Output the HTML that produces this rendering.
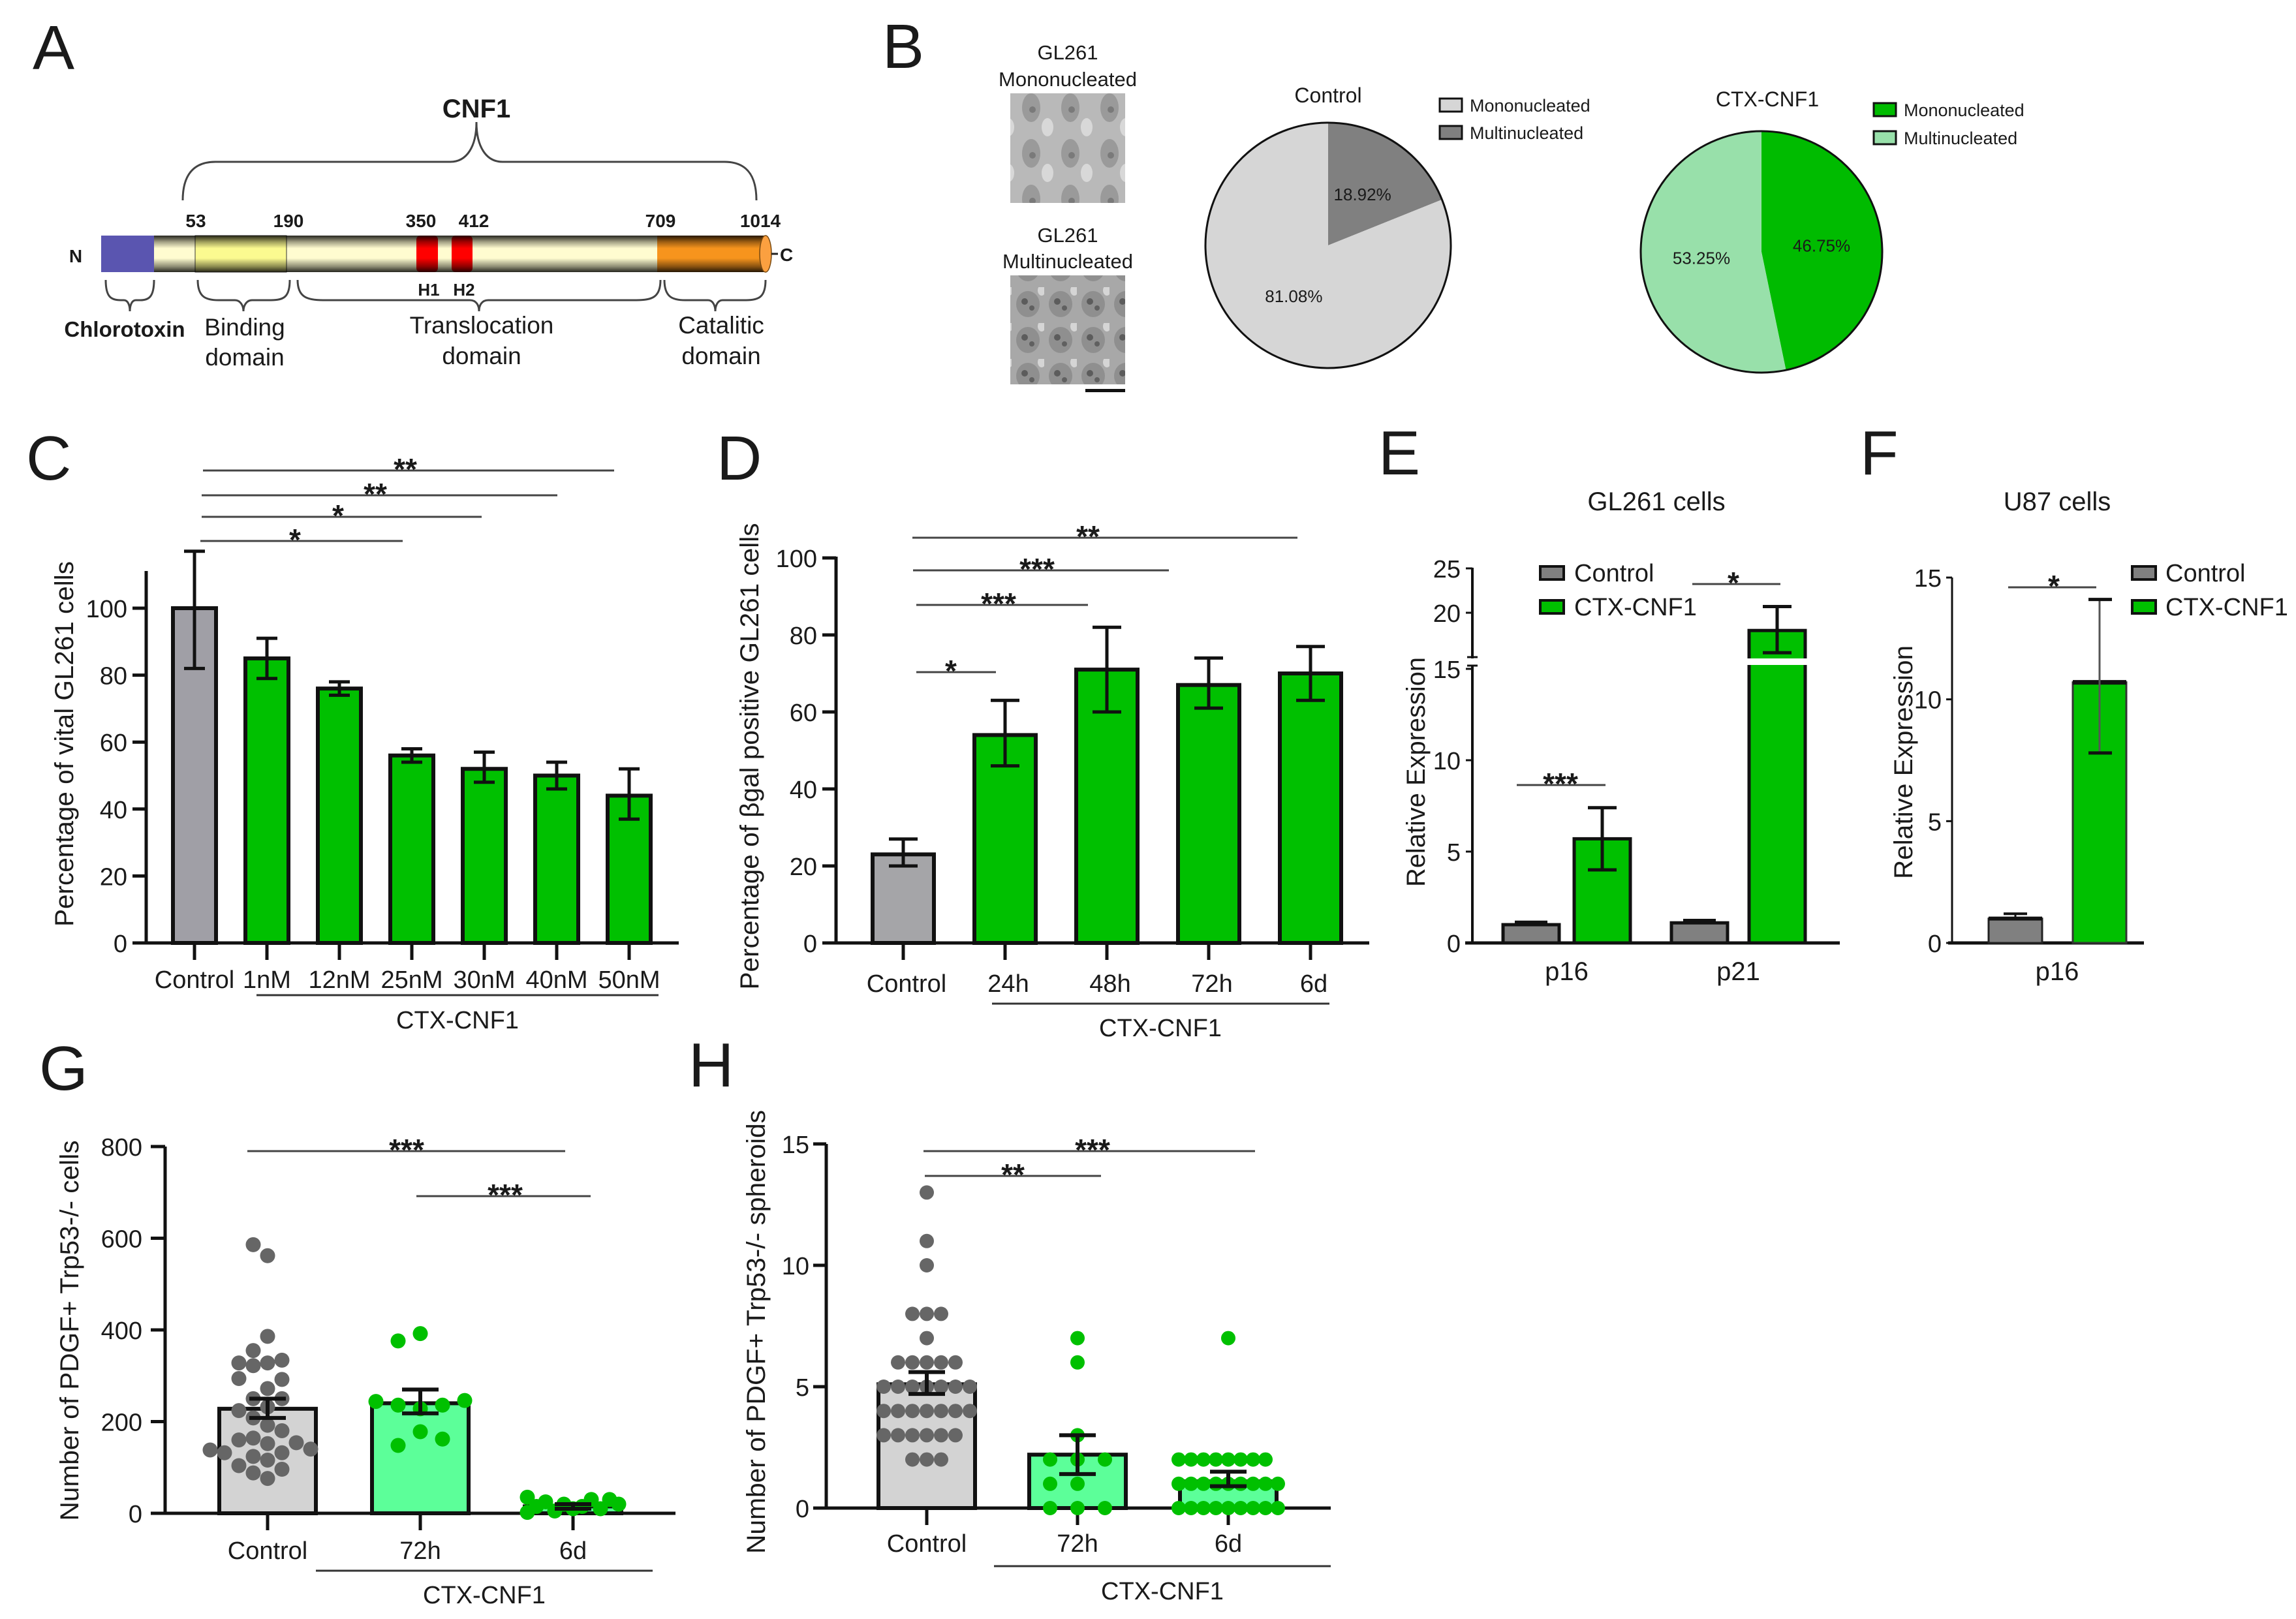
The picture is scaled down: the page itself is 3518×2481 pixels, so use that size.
<!DOCTYPE html>
<html><head><meta charset="utf-8"><style>
html,body{margin:0;padding:0;background:#fff;}
svg{display:block;font-family:"Liberation Sans",Arial,sans-serif;}
text{fill:#1a1a1a;}
</style></head><body>
<svg id="chart" xmlns="http://www.w3.org/2000/svg" width="3518" height="2481" viewBox="0 0 3518 2481">
<defs>
<linearGradient id="cyl" x1="0" y1="0" x2="0" y2="1">
<stop offset="0" stop-color="#000" stop-opacity="0.85"/>
<stop offset="0.18" stop-color="#000" stop-opacity="0.35"/>
<stop offset="0.35" stop-color="#000" stop-opacity="0"/>
<stop offset="0.62" stop-color="#000" stop-opacity="0"/>
<stop offset="0.85" stop-color="#000" stop-opacity="0.45"/>
<stop offset="1" stop-color="#000" stop-opacity="0.85"/>
</linearGradient>
<pattern id="cells1" width="60" height="70" patternUnits="userSpaceOnUse">
<rect width="60" height="70" fill="#b9b9b9"/>
<ellipse cx="20" cy="25" rx="14" ry="22" fill="#9a9a9a"/>
<ellipse cx="45" cy="55" rx="9" ry="14" fill="#d8d8d8"/>
<circle cx="22" cy="28" r="5" fill="#7a7a7a"/>
</pattern>
<pattern id="cells2" width="50" height="55" patternUnits="userSpaceOnUse">
<rect width="50" height="55" fill="#a8a8a8"/>
<ellipse cx="25" cy="26" rx="18" ry="20" fill="#8f8f8f"/>
<circle cx="20" cy="22" r="5" fill="#5c5c5c"/>
<circle cx="31" cy="32" r="4" fill="#606060"/>
<ellipse cx="46" cy="5" rx="6" ry="8" fill="#d5d5d5"/>
</pattern>
</defs>

<!-- ================= PANEL A ================= -->
<g>
<text x="50" y="106" font-size="96">A</text>
<text x="730" y="180" font-size="40" font-weight="bold" text-anchor="middle">CNF1</text>
<path d="M280,307 C280,270 295,248 330,248 L690,248 C715,248 730,225 730,187 C730,225 745,248 770,248 L1110,248 C1145,248 1159,270 1159,307" fill="none" stroke="#444" stroke-width="3"/>
<g font-size="28" font-weight="bold" text-anchor="middle">
<text x="300" y="348">53</text><text x="442" y="348">190</text><text x="645" y="348">350</text><text x="726" y="348">412</text><text x="1012" y="348">709</text><text x="1165" y="348">1014</text>
</g>
<text x="116" y="402" font-size="28" font-weight="bold" text-anchor="middle">N</text>
<rect x="155" y="361" width="82" height="56" fill="#5a55b0"/>
<rect x="236" y="361" width="937" height="56" fill="#fffcd0"/>
<rect x="299" y="361" width="140" height="56" fill="#fbfa90" stroke="#333" stroke-width="1"/>
<rect x="638" y="361" width="33" height="56" rx="6" fill="#f00"/>
<rect x="692" y="361" width="32" height="56" rx="6" fill="#f00"/>
<rect x="1007" y="361" width="166" height="56" fill="#f7941d"/>
<rect x="236" y="361" width="937" height="56" fill="url(#cyl)"/>
<ellipse cx="1173" cy="389" rx="9" ry="28" fill="#fba040" stroke="#7a4a10" stroke-width="1.5"/>
<line x1="1182" y1="389" x2="1192" y2="389" stroke="#222" stroke-width="3"/>
<text x="1195" y="400" font-size="28" font-weight="bold">C</text>
<g font-size="26" font-weight="bold" text-anchor="middle"><text x="657" y="453">H1</text><text x="711" y="453">H2</text></g>
<g fill="none" stroke="#444" stroke-width="3">
<path d="M162,429 C162,455 170,460 185,460 L190,460 C196,460 199,468 199,477 C199,468 202,460 208,460 L215,460 C228,460 236,455 236,429"/>
<path d="M303,429 C303,455 315,460 335,460 L360,460 C368,460 373,468 373,477 C373,468 378,460 386,460 L415,460 C435,460 444,455 444,429"/>
<path d="M456,429 C456,455 470,460 495,460 L720,460 C730,460 734,468 734,477 C734,468 738,460 748,460 L975,460 C1000,460 1012,455 1012,429"/>
<path d="M1018,429 C1018,455 1030,460 1050,460 L1085,460 C1092,460 1096,468 1096,477 C1096,468 1100,460 1107,460 L1143,460 C1163,460 1173,455 1173,429"/>
</g>
<text x="191" y="516" font-size="33" font-weight="bold" text-anchor="middle">Chlorotoxin</text>
<g font-size="37" text-anchor="middle">
<text x="375" y="514">Binding</text><text x="375" y="560">domain</text>
<text x="738" y="511">Translocation</text><text x="738" y="558">domain</text>
<text x="1105" y="511">Catalitic</text><text x="1105" y="558">domain</text>
</g>
</g>

<!-- ================= PANEL B ================= -->
<g>
<text x="1352" y="104" font-size="96">B</text>
<g font-size="31" text-anchor="middle">
<text x="1636" y="91">GL261</text><text x="1636" y="132">Mononucleated</text>
<text x="1636" y="371">GL261</text><text x="1636" y="411">Multinucleated</text>
</g>
<rect x="1548" y="143" width="176" height="168" fill="url(#cells1)"/>
<rect x="1548" y="422" width="176" height="167" fill="url(#cells2)"/>
<rect x="1663" y="596" width="61" height="5" fill="#111"/>
<g id="pies"></g>
</g>

<!-- ================= PANEL LETTERS / TITLES ================= -->
<text x="40" y="735" font-size="96">C</text>
<text x="1098" y="735" font-size="96">D</text>
<text x="2112" y="727" font-size="96">E</text>
<text x="2850" y="727" font-size="96">F</text>
<text x="60" y="1670" font-size="96">G</text>
<text x="1055" y="1665" font-size="96">H</text>
<text x="2538" y="782" font-size="40" text-anchor="middle">GL261 cells</text>
<text x="3152" y="782" font-size="40" text-anchor="middle">U87 cells</text>
</svg>

<script>
// ---------- DATA ----------
const pieCtrlLabels = ['Multinucleated','Mononucleated'];
const pieCtrlValues = [18.92, 81.08];
const pieCtxLabels = ['Mononucleated','Multinucleated'];
const pieCtxValues = [46.75, 53.25];
const cCats = ['Control','1nM','12nM','25nM','30nM','40nM','50nM'];
const cVals = [100, 85, 76, 56, 52, 50, 44];
const cErrLo = [82, 79, 74, 54, 48, 46, 37];
const cErrHi = [117, 91, 78, 58, 57, 54, 52];
const cTicks = [0, 20, 40, 60, 80, 100];
const dCats = ['Control','24h','48h','72h','6d'];
const dVals = [23, 54, 71, 67, 70];
const dErrLo = [20, 46, 60, 61, 63];
const dErrHi = [27, 63, 82, 74, 77];
const dTicks = [0, 20, 40, 60, 80, 100];
const eGenes = ['p16','p21'];
const eCtrl = [1.0, 1.1];
const eCtrlHi = [1.15, 1.25];
const eCnf = [5.7, 18.0];
const eCnfLo = [4.0, 15.5];
const eCnfHi = [7.4, 20.7];
const eTicksLow = [0, 5, 10, 15];
const eTicksHigh = [20, 25];
const fGenes = ['p16'];
const fCtrl = [1.0];
const fCtrlHi = [1.2];
const fCnf = [10.7];
const fCnfLo = [7.8];
const fCnfHi = [14.1];
const fTicks = [0, 5, 10, 15];
const gCats = ['Control','72h','6d'];
const gMeans = [228, 240, 15];
const gSemLo = [208, 218, 10];
const gSemHi = [250, 270, 20];
const gTicks = [0, 200, 400, 600, 800];
const gDotsCtrl = [562,586,386,355,328,334,322,328,272,292,294,250,232,250,224,208,192,164,180,152,160,154,124,132,132,140,138,116,88,96,104,76];
const gDots72 = [392,376,228,236,236,244,246,178,148,162];
const gDots6d = [10,20,15,5,30,25,10,15,30,35,2,20];
const hCats = ['Control','72h','6d'];
const hMeans = [5.1, 2.2, 1.1];
const hSemLo = [4.7, 1.4, 0.9];
const hSemHi = [5.6, 3.0, 1.5];
const hTicks = [0, 5, 10, 15];
const hDotsCtrl = [13,11,10,8,8,8,7,6,6,6,6,6,5,5,5,5,5,5,5,4,4,4,4,4,4,4,3,3,3,3,3,3,2,2,2];
const hDots72 = [7,6,3,2,2,2,1,1,0,0,0];
const hDots6d = [7,2,2,2,2,2,2,2,2,1,1,1,1,1,1,1,1,1,0,0,0,0,0,0,0,0,0];

// ---------- HELPERS ----------
const NS = 'http://www.w3.org/2000/svg';
const svg = document.getElementById('chart');
function mk(tag, attrs, parent) {
  const e = document.createElementNS(NS, tag);
  for (const k in attrs) e.setAttribute(k, attrs[k]);
  (parent || svg).appendChild(e);
  return e;
}
function txt(x, y, s, size, anchor, parent) {
  const t = mk('text', {x: x, y: y, 'font-size': size, 'text-anchor': anchor || 'middle'}, parent);
  t.textContent = s;
  return t;
}
function vtxt(cx, cy, s, size, len, parent) {
  const t = mk('text', {x: 0, y: 0, 'font-size': size, 'text-anchor': 'middle', transform: 'translate(' + cx + ',' + cy + ') rotate(-90)', textLength: len, lengthAdjust: 'spacingAndGlyphs'}, parent);
  t.textContent = s;
  return t;
}
function ln(x1, y1, x2, y2, w, col, parent) {
  return mk('line', {x1: x1, y1: y1, x2: x2, y2: y2, stroke: col || '#111', 'stroke-width': w}, parent);
}
function errBar(x, yLo, yHi, half, w, parent, col) {
  const g = mk('g', {stroke: col || '#111', 'stroke-width': w}, parent);
  ln(x, yLo, x, yHi, w, col, g);
  ln(x - half, yHi, x + half, yHi, w, col, g);
  ln(x - half, yLo, x + half, yLo, w, col, g);
  return g;
}
function sig(x1, x2, y, label, sx, parent) {
  const g = mk('g', {}, parent);
  ln(x1, y, x2, y, 3, '#444', g);
  const t = txt(sx, y + 14, label, 46, 'middle', g);
  t.setAttribute('font-weight', 'bold');
  return g;
}
function swarm(values, cx, yFn, spacing, r, color, parent) {
  const placed = [];
  const order = [0, -1, 1, -2, 2, -3, 3, -4, 4, -5, 5];
  values.forEach(v => {
    const y = yFn(v);
    let x = cx;
    for (const o of order) {
      const cand = cx + o * spacing;
      if (!placed.some(p => Math.abs(p.x - cand) < spacing * 0.95 && Math.abs(p.y - y) < r * 1.9)) { x = cand; break; }
    }
    placed.push({x: x, y: y});
    const c = mk('circle', {cx: x, cy: y, r: r, fill: color}, parent);
    
    
  });
}

// ---------- PANEL B PIES ----------
const pies = document.getElementById('pies');
function drawPie(cx, cy, r, values, colors, names) {
  let a = -Math.PI / 2;
  const total = values.reduce((s, v) => s + v, 0);
  values.forEach((v, i) => {
    const a2 = a + v / total * 2 * Math.PI;
    const large = (a2 - a) > Math.PI ? 1 : 0;
    const d = 'M' + cx + ',' + cy + ' L' + (cx + r * Math.cos(a)) + ',' + (cy + r * Math.sin(a)) +
      ' A' + r + ',' + r + ' 0 ' + large + ' 1 ' + (cx + r * Math.cos(a2)) + ',' + (cy + r * Math.sin(a2)) + ' Z';
    const p = mk('path', {d: d, fill: colors[i]}, pies);
    
    
    const mid = (a + a2) / 2;
    txt(cx + r * 0.5 * Math.cos(mid), cy + r * 0.5 * Math.sin(mid) + 9, v.toFixed(2) + '%', 26, 'middle', pies);
    a = a2;
  });
  const o = mk('circle', {cx: cx, cy: cy, r: r, fill: 'none', stroke: '#111', 'stroke-width': 3}, pies);
  
  
}
txt(2035, 157, 'Control', 32, 'middle', pies);
drawPie(2035, 376, 188, pieCtrlValues, ['#808080', '#d6d6d6'], ['slice-control-multinucleated', 'slice-control-mononucleated']);
txt(2708, 163, 'CTX-CNF1', 32, 'middle', pies);
drawPie(2699, 386, 185, pieCtxValues, ['#00bb00', '#98e0aa'], ['slice-ctx-mononucleated', 'slice-ctx-multinucleated']);
[[2206, 161, '#d6d6d6', pieCtrlLabels[1]], [2206, 203, '#808080', pieCtrlLabels[0]],
 [2871, 168, '#00bb00', pieCtxLabels[0]], [2871, 211, '#98e0aa', pieCtxLabels[1]]].forEach(l => {
  const s = mk('rect', {x: l[0], y: l[1] - 10, width: 34, height: 20, fill: l[2], stroke: '#111', 'stroke-width': 3}, pies);
  
  
  const t = txt(l[0] + 46, l[1] + 10, l[3], 27, 'start', pies);
  
  
});

// ---------- PANEL C ----------
(function () {
  const g = mk('g', {});
  
  
  const y = v => 1445 - v * 5.13;
  const x = i => 298 + 111 * i;
  ln(224, 875, 224, 1447, 5, '#111', g);
  ln(203, 1445, 1040, 1445, 5, '#111', g);
  cTicks.forEach(t => { ln(203, y(t), 224, y(t), 5, '#111', g); txt(195, y(t) + 14, String(t), 38, 'end', g); });
  cCats.forEach((c, i) => {
    const b = mk('rect', {x: x(i) - 33, y: y(cVals[i]), width: 66, height: 1445 - y(cVals[i]), fill: i === 0 ? '#a09fa6' : '#00c000', stroke: '#111', 'stroke-width': 6}, g);
    
    
    errBar(x(i), y(cErrLo[i]), y(cErrHi[i]), 16, 5, g);
    ln(x(i), 1445, x(i), 1471, 5, '#111', g);
    txt(x(i), 1514, c, 38, 'middle', g);
  });
  ln(393, 1525, 1009, 1525, 3, '#333', g);
  txt(701, 1576, 'CTX-CNF1', 38, 'middle', g);
  vtxt(112, 1140, 'Percentage of vital GL261 cells', 40, 560, g);
  sig(311, 941, 721, '**', 621, g);
  sig(309, 854, 759, '**', 575, g);
  sig(309, 738, 792, '*', 518, g);
  sig(307, 617, 829, '*', 452, g);
})();

// ---------- PANEL D ----------
(function () {
  const g = mk('g', {});
  
  
  const y = v => 1445 - v * 5.9;
  const x = i => 1384 + 156 * i;
  ln(1281, 853, 1281, 1447, 5, '#111', g);
  ln(1260, 1445, 2098, 1445, 5, '#111', g);
  dTicks.forEach(t => { ln(1260, y(t), 1281, y(t), 5, '#111', g); txt(1252, y(t) + 14, String(t), 38, 'end', g); });
  dCats.forEach((c, i) => {
    const b = mk('rect', {x: x(i) - 47, y: y(dVals[i]), width: 94, height: 1445 - y(dVals[i]), fill: i === 0 ? '#a5a5a8' : '#00c000', stroke: '#111', 'stroke-width': 6}, g);
    
    
    errBar(x(i), y(dErrLo[i]), y(dErrHi[i]), 22, 5, g);
    ln(x(i), 1445, x(i), 1471, 5, '#111', g);
    txt(x(i) + 5, 1520, c, 38, 'middle', g);
  });
  ln(1520, 1538, 2037, 1538, 3, '#333', g);
  txt(1778, 1588, 'CTX-CNF1', 38, 'middle', g);
  vtxt(1162, 1159, 'Percentage of \u03B2gal positive GL261 cells', 40, 715, g);
  sig(1398, 1988, 824, '**', 1667, g);
  sig(1399, 1791, 874, '***', 1589, g);
  sig(1404, 1667, 927, '***', 1530, g);
  sig(1404, 1526, 1030, '*', 1457, g);
})();

// ---------- PANEL E ----------
(function () {
  const g = mk('g', {});
  
  
  const y = v => v <= 15 ? 1445 - v * 28 : 1007 - (v - 15) * 13.6;
  const xc = i => 2346 + 258 * i;
  const xg = i => 2455 + 268 * i;
  ln(2256, 870, 2256, 1447, 4, '#111', g);
  ln(2245, 1445, 2819, 1445, 5, '#111', g);
  eTicksLow.forEach(t => { ln(2246, y(t), 2256, y(t), 3, '#111', g); txt(2238, y(t) + 14, String(t), 38, 'end', g); });
  eTicksHigh.forEach(t => { ln(2246, y(t), 2256, y(t), 3, '#111', g); txt(2238, y(t) + 14, String(t), 38, 'end', g); });
  eGenes.forEach((gn, i) => {
    const c = mk('rect', {x: xc(i) - 43, y: y(eCtrl[i]), width: 86, height: 1445 - y(eCtrl[i]), fill: '#808080', stroke: '#111', 'stroke-width': 5}, g);
    
    
    ln(xc(i), y(eCtrl[i]), xc(i), y(eCtrlHi[i]), 4, '#111', g);
    ln(xc(i) - 25, y(eCtrlHi[i]), xc(i) + 25, y(eCtrlHi[i]), 4, '#111', g);
    const b = mk('rect', {x: xg(i) - 43, y: y(eCnf[i]), width: 86, height: 1445 - y(eCnf[i]), fill: '#00c000', stroke: '#111', 'stroke-width': 5}, g);
    
    
    errBar(xg(i), y(eCnfLo[i]), y(eCnfHi[i]), 22, 5, g);
    txt((xc(i) + xg(i)) / 2, 1502, gn, 40, 'middle', g);
  });
  mk('rect', {x: 2240, y: 1009, width: 560, height: 10, fill: '#fff'}, g);
  ln(2248, 1007, 2264, 1007, 3, '#111', g);
  ln(2248, 1020, 2264, 1020, 3, '#111', g);
  [['Control', '#808080', 878], ['CTX-CNF1', '#00c000', 930]].forEach(l => {
    const s = mk('rect', {x: 2360, y: l[2] - 10, width: 36, height: 20, fill: l[1], stroke: '#111', 'stroke-width': 4}, g);
    
    
    const t = txt(2412, l[2] + 13, l[0], 38, 'start', g);
    
    
  });
  vtxt(2183, 1183, 'Relative Expression', 40, 352, g);
  sig(2324, 2460, 1203, '***', 2391, g);
  sig(2593, 2728, 895, '*', 2656, g);
})();

// ---------- PANEL F ----------
(function () {
  const g = mk('g', {});
  
  
  const y = v => 1445 - v * 37.33;
  ln(2991, 885, 2991, 1447, 3, '#111', g);
  ln(2985, 1445, 3285, 1445, 5, '#111', g);
  fTicks.forEach(t => { ln(2982, y(t), 2991, y(t), 3, '#111', g); txt(2975, y(t) + 14, String(t), 38, 'end', g); });
  fGenes.forEach((gn, i) => {
    const c = mk('rect', {x: 3047, y: y(fCtrl[i]), width: 82, height: 1445 - y(fCtrl[i]), fill: '#808080', stroke: '#222', 'stroke-width': 3}, g);
    
    
    ln(3047, y(fCtrl[i]), 3129, y(fCtrl[i]), 6, '#111', g);
    ln(3088, y(fCtrl[i]), 3088, y(fCtrlHi[i]), 3, '#111', g);
    ln(3070, y(fCtrlHi[i]), 3106, y(fCtrlHi[i]), 4, '#111', g);
    const b = mk('rect', {x: 3176, y: y(fCnf[i]), width: 82, height: 1445 - y(fCnf[i]), fill: '#00c000', stroke: '#333', 'stroke-width': 3}, g);
    
    
    ln(3176, y(fCnf[i]), 3258, y(fCnf[i]), 7, '#111', g);
    ln(3217, y(fCnfLo[i]), 3217, y(fCnfHi[i]), 3, '#555', g);
    ln(3200, y(fCnfHi[i]), 3236, y(fCnfHi[i]), 5, '#111', g);
    ln(3200, y(fCnfLo[i]), 3236, y(fCnfLo[i]), 5, '#111', g);
    txt(3152, 1502, gn, 40, 'middle', g);
  });
  [['Control', '#808080', 878], ['CTX-CNF1', '#00c000', 930]].forEach(l => {
    const s = mk('rect', {x: 3267, y: l[2] - 10, width: 36, height: 20, fill: l[1], stroke: '#111', 'stroke-width': 4}, g);
    
    
    const t = txt(3318, l[2] + 13, l[0], 38, 'start', g);
    
    
  });
  vtxt(2930, 1168, 'Relative Expression', 40, 358, g);
  sig(3077, 3212, 900, '*', 3147, g);
})();

// ---------- PANEL G ----------
(function () {
  const g = mk('g', {});
  
  
  const y = v => 2319 - v * 0.7025;
  const x = i => 410 + 234 * i;
  const fills = ['#d3d3d3', '#5cff99', '#5cff99'];
  ln(253, 1757, 253, 2321, 5, '#111', g);
  ln(231, 2319, 1035, 2319, 5, '#111', g);
  gTicks.forEach(t => { ln(231, y(t), 253, y(t), 5, '#111', g); txt(218, y(t) + 14, String(t), 38, 'end', g); });
  gCats.forEach((c, i) => {
    const b = mk('rect', {x: x(i) - 74, y: y(gMeans[i]), width: 148, height: 2319 - y(gMeans[i]), fill: fills[i], stroke: '#111', 'stroke-width': 6}, g);
    
    
    ln(x(i), 2319, x(i), 2345, 5, '#111', g);
    txt(x(i), 2389, c, 38, 'middle', g);
  });
  swarm(gDotsCtrl, x(0), y, 22, 11.5, '#666', g);
  swarm(gDots72, x(1), y, 34, 11.5, '#00c000', g);
  swarm(gDots6d, x(2), y, 14, 11.5, '#00c000', g);
  gCats.forEach((c, i) => errBar(x(i), y(gSemLo[i]), y(gSemHi[i]), 28, 6, g));
  ln(484, 2407, 1000, 2407, 3, '#333', g);
  txt(742, 2457, 'CTX-CNF1', 38, 'middle', g);
  vtxt(120, 2039, 'Number of PDGF+ Trp53-/- cells', 40, 583, g);
  sig(379, 866, 1764, '***', 623, g);
  sig(638, 905, 1833, '***', 774, g);
})();

// ---------- PANEL H ----------
(function () {
  const g = mk('g', {});
  
  
  const y = v => 2311 - v * 37.2;
  const x = i => 1420 + 231 * i;
  const fills = ['#d3d3d3', '#5cff99', '#5cff99'];
  ln(1266, 1753, 1266, 2313, 5, '#111', g);
  ln(1246, 2311, 2039, 2311, 5, '#111', g);
  hTicks.forEach(t => { ln(1246, y(t), 1266, y(t), 5, '#111', g); txt(1240, y(t) + 14, String(t), 38, 'end', g); });
  hCats.forEach((c, i) => {
    const b = mk('rect', {x: x(i) - 74, y: y(hMeans[i]), width: 148, height: 2311 - y(hMeans[i]), fill: fills[i], stroke: '#111', 'stroke-width': 6}, g);
    
    
    ln(x(i), 2311, x(i), 2337, 5, '#111', g);
    txt(x(i), 2378, c, 38, 'middle', g);
  });
  swarm(hDotsCtrl, x(0), y, 22, 11, '#666', g);
  swarm(hDots72, x(1), y, 42, 11, '#00c000', g);
  swarm(hDots6d, x(2), y, 19, 11, '#00c000', g);
  hCats.forEach((c, i) => errBar(x(i), y(hSemLo[i]), y(hSemHi[i]), 28, 6, g));
  ln(1523, 2400, 2039, 2400, 3, '#333', g);
  txt(1781, 2451, 'CTX-CNF1', 38, 'middle', g);
  vtxt(1172, 2041, 'Number of PDGF+ Trp53-/- spheroids', 40, 680, g);
  sig(1415, 1923, 1764, '***', 1674, g);
  sig(1417, 1687, 1802, '**', 1552, g);
})();
</script>
</body></html>
